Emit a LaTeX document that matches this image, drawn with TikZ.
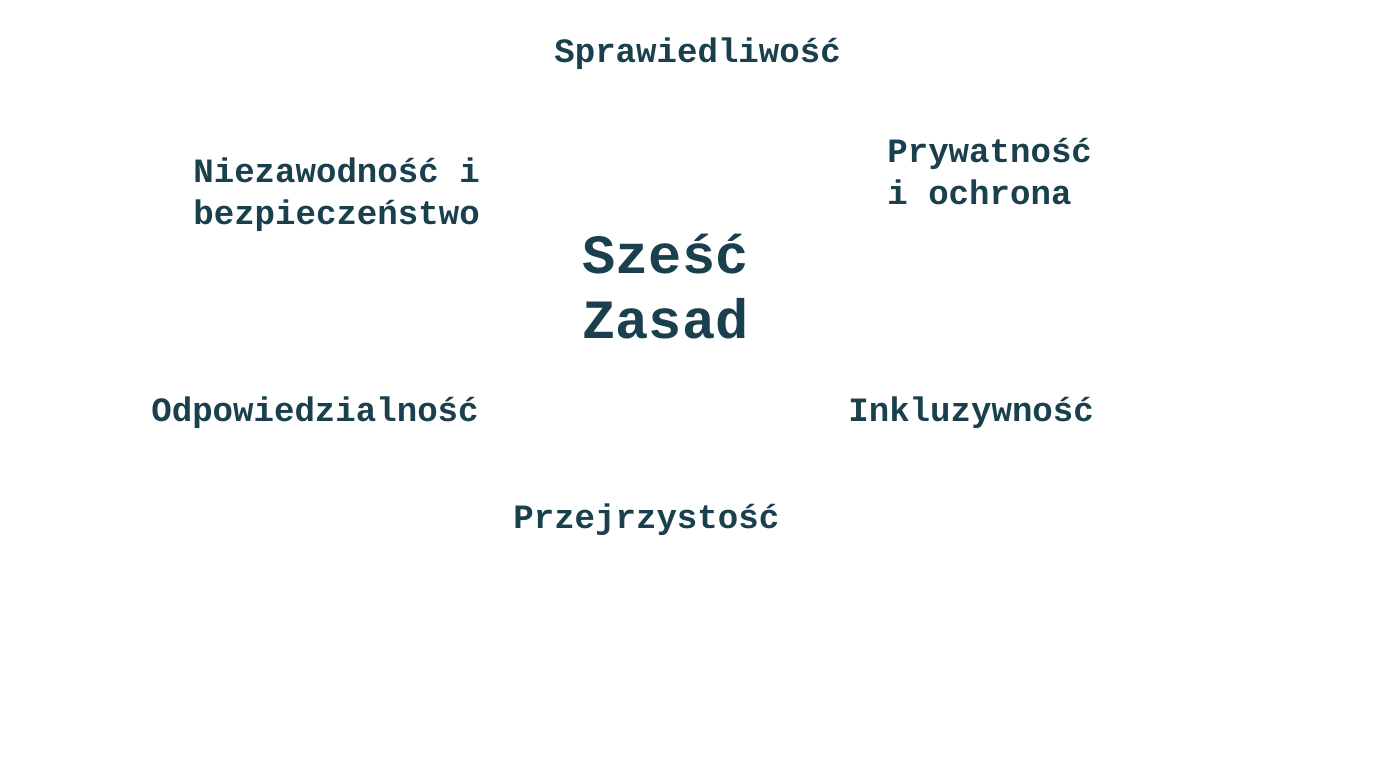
\documentclass[tikz,border=0pt]{standalone}
\usepackage{fontspec}
\setmonofont{Liberation Mono}
\usepackage{xcolor}
\usepackage{tikz}
\usetikzlibrary{positioning}
\definecolor{zasada}{RGB}{26,64,78}

\begin{document}
\begin{tikzpicture}

                % Bounding box of the whole slide
                \useasboundingbox (0, 0) rectangle (27.72, 15.36);

                % base anchor sits on the last line of each node
                \tikzset{
                    label/.style={anchor=base west, inner sep=0pt, align=left,
                        text=zasada, font=\ttfamily\bfseries\fontsize{19.4}{23.9}\selectfont},
                    title/.style={anchor=base west, inner sep=0pt, align=left,
                        text=zasada, font=\ttfamily\bfseries\fontsize{31.5}{37}\selectfont}
                }

                \begin{scope}
                    \node[title] (0) at (11.64, 8.58) {Sześć\\Zasad};
                    \node[label] (1) at (11.08, 14.10) {Sprawiedliwość};
                    \node[label] (2) at (17.74, 11.26) {Prywatność\\i ochrona};
                    \node[label] (3) at (16.96, 6.92) {Inkluzywność};
                    \node[label] (4) at (10.26, 4.78) {Przejrzystość};
                    \node[label] (5) at (3.02, 6.92) {Odpowiedzialność};
                    \node[label] (6) at (3.86, 10.86) {Niezawodność i\\bezpieczeństwo};
                \end{scope}

                \end{tikzpicture}
\end{document}
